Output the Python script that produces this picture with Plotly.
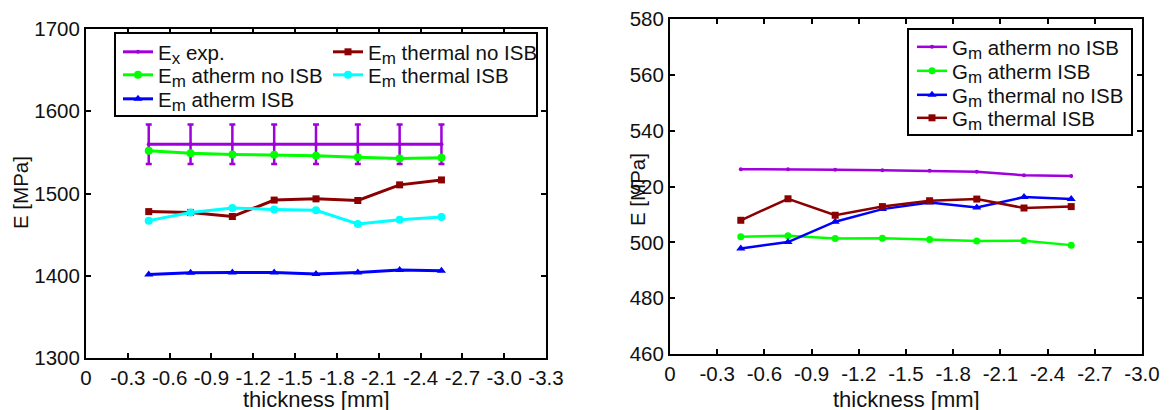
import plotly.graph_objects as go

# ---------------- data ----------------
thickness = [-0.45, -0.75, -1.05, -1.35, -1.65, -1.95, -2.25, -2.55]

# left panel (E)
ex_exp = [1560, 1560, 1560, 1560, 1560, 1560, 1560, 1560]
ex_exp_err = [24, 24, 24, 24, 24, 24, 24, 24]
em_atherm_no_isb = [1552, 1549, 1547.5, 1547, 1546, 1544, 1542.5, 1543.5]
em_atherm_isb = [1401.5, 1403.5, 1404, 1404, 1402, 1404, 1407, 1406]
em_thermal_no_isb = [1478, 1477, 1472, 1492, 1493.5, 1491.5, 1510.5, 1516.5]
em_thermal_isb = [1467, 1477, 1482.5, 1480.5, 1479.5, 1463, 1468, 1471.5]

# right panel (G)
gm_atherm_no_isb = [526.2, 526.2, 526.0, 525.8, 525.6, 525.3, 524.0, 523.8]
gm_atherm_isb = [502.0, 502.4, 501.4, 501.5, 501.0, 500.5, 500.6, 499.0]
gm_thermal_no_isb = [497.8, 500.1, 507.4, 511.9, 514.3, 512.5, 516.2, 515.5]
gm_thermal_isb = [507.9, 515.6, 509.7, 512.8, 514.9, 515.5, 512.3, 512.8]

left_xtick_vals = [0, -0.3, -0.6, -0.9, -1.2, -1.5, -1.8, -2.1, -2.4, -2.7, -3.0, -3.3]
left_xtick_text = ["0", "-0.3", "-0.6", "-0.9", "-1.2", "-1.5", "-1.8", "-2.1", "-2.4", "-2.7", "-3.0", "-3.3"]
right_xtick_vals = [0, -0.3, -0.6, -0.9, -1.2, -1.5, -1.8, -2.1, -2.4, -2.7, -3.0]
right_xtick_text = ["0", "-0.3", "-0.6", "-0.9", "-1.2", "-1.5", "-1.8", "-2.1", "-2.4", "-2.7", "-3.0"]
left_ytick_vals = [1300, 1400, 1500, 1600, 1700]
right_ytick_vals = [460, 480, 500, 520, 540, 560, 580]

# ---------------- style ----------------
W, H = 1170, 410
FONT = "Liberation Sans, Arial, sans-serif"
FS = 20.5
PURPLE = "#A000DC"
GREEN = "#00FF00"
BLUE = "#0000FF"
DRED = "#8B0000"
CYAN = "#00FFFF"
TXT = "#111111"

def sub(base, s, rest):
    return f"{base}<sub><span style='font-size:17px'>{s}</span></sub> {rest}"

def px(x):
    return x / W

def py(y):
    return 1 - y / H

fig = go.Figure()

def add(x, y, name, color, symbol, msize, lw, xa, ya, legend, err=None):
    kw = {}
    if err is not None:
        kw["error_y"] = dict(type="data", array=err, color=color, thickness=2.5, width=3)
    fig.add_trace(go.Scatter(
        x=x, y=y, name=name, mode="lines+markers",
        line=dict(color=color, width=lw),
        marker=dict(color=color, symbol=symbol, size=msize),
        xaxis=xa, yaxis=ya, legend=legend, **kw))

# left panel
add(thickness, ex_exp, sub("E", "x", "exp."), PURPLE, "circle", 4, 3, "x", "y", "legend", ex_exp_err)
add(thickness, em_atherm_no_isb, sub("E", "m", "atherm no ISB"), GREEN, "circle", 8, 3, "x", "y", "legend2")
add(thickness, em_atherm_isb, sub("E", "m", "atherm ISB"), BLUE, "triangle-up", 8, 3, "x", "y", "legend3")
add(thickness, em_thermal_no_isb, sub("E", "m", "thermal no ISB"), DRED, "square", 7, 3, "x", "y", "legend4")
add(thickness, em_thermal_isb, sub("E", "m", "thermal ISB"), CYAN, "circle", 8, 3, "x", "y", "legend5")

# right panel
add(thickness, gm_atherm_no_isb, sub("G", "m", "atherm no ISB"), PURPLE, "circle", 4, 2.5, "x2", "y2", "legend6")
add(thickness, gm_atherm_isb, sub("G", "m", "atherm ISB"), GREEN, "circle", 7, 2.5, "x2", "y2", "legend7")
add(thickness, gm_thermal_no_isb, sub("G", "m", "thermal no ISB"), BLUE, "triangle-up", 8, 2.5, "x2", "y2", "legend8")
add(thickness, gm_thermal_isb, sub("G", "m", "thermal ISB"), DRED, "square", 7, 2.5, "x2", "y2", "legend9")

axis_common = dict(
    showline=True, linewidth=2, linecolor="black", mirror="ticks",
    ticks="inside", ticklen=5, tickwidth=1.5, tickcolor="black",
    showgrid=False, zeroline=False, automargin=False, tickangle=0,
    tickfont=dict(family=FONT, size=FS, color=TXT),
)

legend_pos = {
    "legend": (118, 52), "legend2": (118, 75), "legend3": (118, 99),
    "legend4": (328, 52), "legend5": (328, 75),
    "legend6": (912, 47), "legend7": (912, 71), "legend8": (912, 95), "legend9": (912, 118),
}
legends = {}
for k, (lx, ly) in legend_pos.items():
    legends[k] = dict(
        x=px(lx), y=py(ly), xanchor="left", yanchor="middle",
        bgcolor="rgba(0,0,0,0)", borderwidth=0, itemwidth=30,
        font=dict(family=FONT, size=FS, color=TXT),
    )

fig.update_layout(
    width=W, height=H,
    margin=dict(l=0, r=0, t=0, b=0),
    paper_bgcolor="white", plot_bgcolor="white",
    showlegend=True,
    xaxis=dict(domain=[px(86), px(546)], range=[0, -3.3], tickvals=left_xtick_vals,
               ticktext=left_xtick_text, anchor="y", **axis_common),
    yaxis=dict(domain=[py(358), py(29)], range=[1300, 1700], tickvals=left_ytick_vals,
               anchor="x", **axis_common),
    xaxis2=dict(domain=[px(670), px(1142)], range=[0, -3.0], tickvals=right_xtick_vals,
                ticktext=right_xtick_text, anchor="y2", **axis_common),
    yaxis2=dict(domain=[py(354), py(19)], range=[460, 580], tickvals=right_ytick_vals,
                anchor="x2", **axis_common),
    shapes=[
        dict(type="rect", xref="paper", yref="paper", x0=px(115), x1=px(537), y0=py(116), y1=py(33),
             line=dict(color="black", width=2), fillcolor="white", layer="above"),
        dict(type="rect", xref="paper", yref="paper", x0=px(908), x1=px(1132), y0=py(135), y1=py(29),
             line=dict(color="black", width=2), fillcolor="white", layer="above"),
    ],
    annotations=[
        dict(text="thickness [mm]", xref="paper", yref="paper", x=px(316), y=py(399),
             xanchor="center", yanchor="middle", showarrow=False,
             font=dict(family=FONT, size=22, color=TXT)),
        dict(text="thickness [mm]", xref="paper", yref="paper", x=px(906), y=py(399),
             xanchor="center", yanchor="middle", showarrow=False,
             font=dict(family=FONT, size=22, color=TXT)),
        dict(text="E [MPa]", xref="paper", yref="paper", x=px(20), y=py(193), textangle=-90,
             xanchor="center", yanchor="middle", showarrow=False,
             font=dict(family=FONT, size=FS, color=TXT)),
        dict(text="E [MPa]", xref="paper", yref="paper", x=px(637), y=py(190), textangle=-90,
             xanchor="center", yanchor="middle", showarrow=False,
             font=dict(family=FONT, size=FS, color=TXT)),
    ],
    **legends,
)

fig.write_html("out.html", config={"displayModeBar": False},
               post_script="document.body.style.margin='0';")
